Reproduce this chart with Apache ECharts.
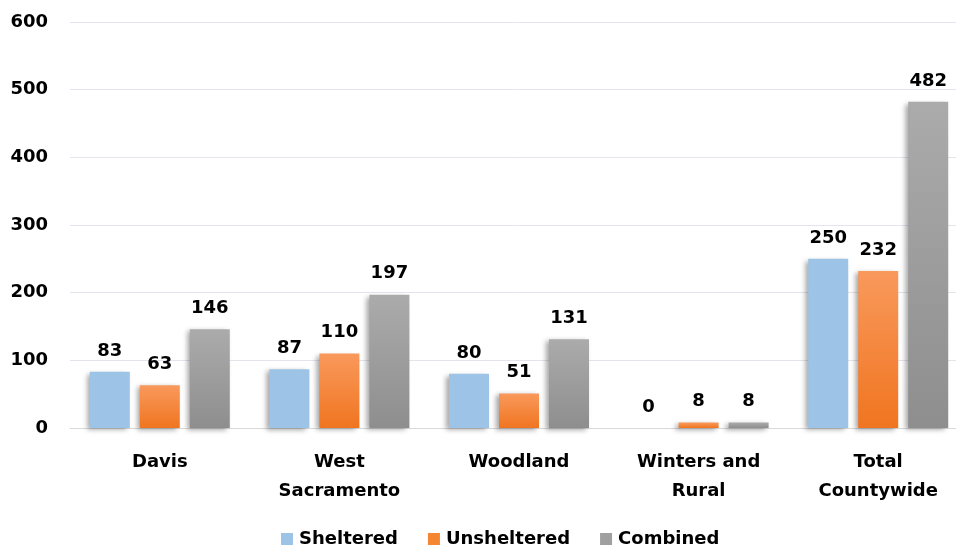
<!DOCTYPE html>
<html><head><meta charset="utf-8">
<script src="https://cdn.jsdelivr.net/npm/echarts@6/dist/echarts.min.js"></script>
<style>html,body{margin:0;padding:0;background:#fff}#c{width:956px;height:551px}</style>
</head><body><div id="c"></div>
<script>
var categories = ['Davis', 'West\nSacramento', 'Woodland', 'Winters and\nRural', 'Total\nCountywide'];
var sheltered = [83, 87, 80, 0, 250];
var unsheltered = [63, 110, 51, 8, 232];
var combined = [146, 197, 131, 8, 482];
var yTicks = [0, 100, 200, 300, 400, 500, 600];

var FONT = 'DejaVu Sans';
function grad(a, b) {
  return new echarts.graphic.LinearGradient(0, 0, 0, 1, [{offset: 0, color: a}, {offset: 1, color: b}]);
}
function mk(name, data, color) {
  return {
    name: name, type: 'bar', data: data, barWidth: 40, barGap: '25%',
    itemStyle: {color: color, shadowColor: 'rgba(0,0,0,0.35)', shadowBlur: 5, shadowOffsetX: -3, shadowOffsetY: 2},
    label: {show: true, position: 'top', distance: 12, fontFamily: FONT, fontWeight: 'bold', fontSize: 18, color: '#000'}
  };
}
var chart = echarts.init(document.getElementById('c'));
chart.setOption({
  animation: false,
  grid: {left: 70, top: 22, width: 898, height: 406, containLabel: false, outerBoundsMode: 'none'},
  legend: {
    top: 525, left: 276, itemWidth: 12, itemHeight: 12, itemGap: 30,
    icon: 'rect',
    textStyle: {fontFamily: FONT, fontWeight: 'bold', fontSize: 18, color: '#000', padding: [0, 0, 0, 1]},
    data: [
      {name: 'Sheltered', itemStyle: {color: '#9DC3E6', shadowBlur: 0}},
      {name: 'Unsheltered', itemStyle: {color: '#F58733', shadowBlur: 0}},
      {name: 'Combined', itemStyle: {color: '#A0A0A0', shadowBlur: 0}}
    ]
  },
  xAxis: {
    type: 'category', data: categories,
    axisLine: {show: true, lineStyle: {color: '#D9D9D9'}},
    axisTick: {show: false},
    axisLabel: {fontFamily: FONT, fontWeight: 'bold', fontSize: 18, color: '#000', lineHeight: 29, margin: 20, interval: 0}
  },
  yAxis: {
    type: 'value', min: 0, max: 600, interval: 100,
    axisLine: {show: false}, axisTick: {show: false},
    splitLine: {lineStyle: {color: '#E4E4EC'}},
    axisLabel: {fontFamily: FONT, fontWeight: 'bold', fontSize: 18, color: '#000', margin: 22,
      formatter: function (v) { return yTicks.indexOf(v) >= 0 ? String(v) : ''; }}
  },
  series: [
    mk('Sheltered', sheltered, '#9DC3E6'),
    mk('Unsheltered', unsheltered, grad('#F9995C', '#F07520')),
    mk('Combined', combined, grad('#ABABAB', '#8E8E8E'))
  ]
});
</script></body></html>
